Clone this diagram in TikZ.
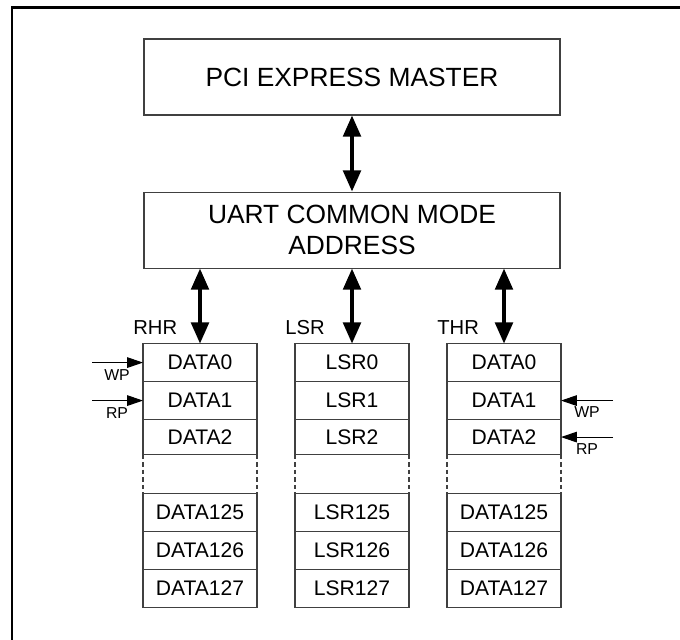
\documentclass[tikz,border=0pt]{standalone}
\usepackage{fontspec}
\setmainfont{Liberation Sans}
\usetikzlibrary{arrows.meta,positioning}
\definecolor{uartgray}{RGB}{64,64,64}

\begin{document}
\begin{tikzpicture}[
    node distance=0cm,
    block/.style={rectangle, draw=uartgray, line width=0.6pt, minimum width=8.32cm, minimum height=1.52cm, align=center, font=\fontsize{15}{17.6}\selectfont},
    cell/.style={rectangle, draw=uartgray, line width=0.6pt, minimum width=2.28cm, minimum height=0.76cm, inner sep=0pt, outer sep=0pt, font=\fontsize{12}{14}\selectfont},
    gap/.style={rectangle, minimum width=2.28cm, minimum height=0.78cm, inner sep=0pt, outer sep=0pt},
    gapside/.style={draw=uartgray, line width=0.6pt, dash pattern=on 2.5pt off 1.8pt},
    tag/.style={inner sep=0pt, font=\fontsize{11.5}{14}\selectfont},
    ptrtag/.style={inner sep=0pt, font=\fontsize{9}{11}\selectfont},
    bus/.style={{Triangle[length=12pt,width=10pt]}-{Triangle[length=12pt,width=10pt]}, line width=2pt},
    ptr/.style={-{Triangle[length=9pt,width=6pt]}, line width=0.6pt},
    frame/.style={line width=1.7pt}
]
    \useasboundingbox (0,0) rectangle (13.6,-12.8);
    \draw[frame] (0.24,-13) -- (0.24,-0.16) -- (13.8,-0.16);

    \node[block] (pcie) at (7.04,-1.54) {PCI EXPRESS MASTER};
    \node[block, below=1.52cm of pcie] (uart) {UART COMMON MODE\\ADDRESS};

    % RHR column
    \node[cell, below=1.5cm of uart.south, xshift=-3.04cm] (rhr0) {DATA0};
    \node[cell, below=of rhr0] (rhr1) {DATA1};
    \node[cell, below=of rhr1, minimum height=0.7cm] (rhr2) {DATA2};
    \node[gap, below=of rhr2] (rhrgap) {};
    \node[cell, below=of rhrgap] (rhr125) {DATA125};
    \node[cell, below=of rhr125] (rhr126) {DATA126};
    \node[cell, below=of rhr126] (rhr127) {DATA127};
    \node[tag, above right=0.18cm and -0.2cm of rhr0.north west] (rhrtag) {RHR};

    % LSR column
    \node[cell, below=1.5cm of uart.south] (lsr0) {LSR0};
    \node[cell, below=of lsr0] (lsr1) {LSR1};
    \node[cell, below=of lsr1, minimum height=0.7cm] (lsr2) {LSR2};
    \node[gap, below=of lsr2] (lsrgap) {};
    \node[cell, below=of lsrgap] (lsr125) {LSR125};
    \node[cell, below=of lsr125] (lsr126) {LSR126};
    \node[cell, below=of lsr126] (lsr127) {LSR127};
    \node[tag, above right=0.18cm and -0.2cm of lsr0.north west] (lsrtag) {LSR};

    % THR column
    \node[cell, below=1.5cm of uart.south, xshift=3.04cm] (thr0) {DATA0};
    \node[cell, below=of thr0] (thr1) {DATA1};
    \node[cell, below=of thr1, minimum height=0.7cm] (thr2) {DATA2};
    \node[gap, below=of thr2] (thrgap) {};
    \node[cell, below=of thrgap] (thr125) {DATA125};
    \node[cell, below=of thr125] (thr126) {DATA126};
    \node[cell, below=of thr126] (thr127) {DATA127};
    \node[tag, above right=0.18cm and -0.2cm of thr0.north west] (thrtag) {THR};

    \draw[gapside] (rhrgap.north west) -- (rhrgap.south west) (rhrgap.north east) -- (rhrgap.south east);
    \draw[gapside] (lsrgap.north west) -- (lsrgap.south west) (lsrgap.north east) -- (lsrgap.south east);
    \draw[gapside] (thrgap.north west) -- (thrgap.south west) (thrgap.north east) -- (thrgap.south east);

    \draw[bus] (pcie) -- (uart);
    \draw[bus] (uart.south -| rhr0.north) -- (rhr0.north);
    \draw[bus] (uart.south -| lsr0.north) -- (lsr0.north);
    \draw[bus] (uart.south -| thr0.north) -- (thr0.north);

    % write / read pointers
    \coordinate[left=1.02cm of rhr0.west] (rhrwp);
    \coordinate[left=1.02cm of rhr1.west] (rhrrp);
    \draw[ptr] (rhrwp) -- (rhr0.west);
    \draw[ptr] (rhrrp) -- (rhr1.west);
    \node[ptrtag, below=0.14cm of rhrwp, xshift=0.5cm] (rhrwptag) {WP};
    \node[ptrtag, below=0.14cm of rhrrp, xshift=0.5cm] (rhrrptag) {RP};

    \coordinate[right=1.04cm of thr1.east] (thrwp);
    \coordinate[right=1.04cm of thr2.east] (thrrp);
    \draw[ptr] (thrwp) -- (thr1.east);
    \draw[ptr] (thrrp) -- (thr2.east);
    \node[ptrtag, below=0.12cm of thrwp, xshift=-0.52cm] (thrwptag) {WP};
    \node[ptrtag, below=0.12cm of thrrp, xshift=-0.52cm] (thrrptag) {RP};
\end{tikzpicture}
\end{document}
